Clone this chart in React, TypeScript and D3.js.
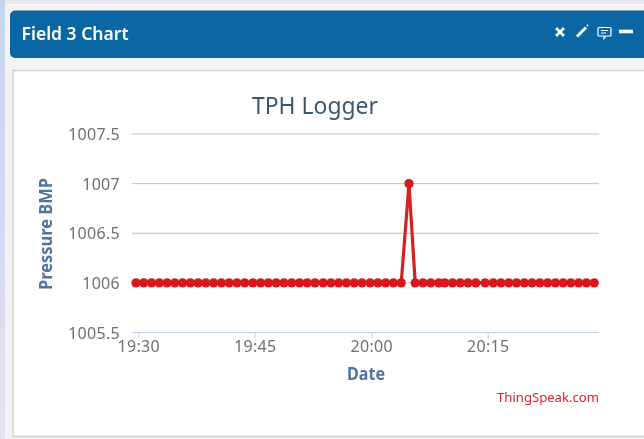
import React from "react";
import * as d3 from "d3";

const minutesAfter1930 = [
  -0.35, 0.65, 1.65, 2.65, 3.65, 4.65, 5.65, 6.65, 7.65, 8.65, 9.65, 10.65, 11.65, 12.65, 13.65,
  14.7, 15.7, 16.7, 17.7, 18.7, 19.7, 20.7, 21.7, 22.7, 23.75, 24.75, 25.75, 26.75, 27.75, 28.75,
  29.8, 30.8, 31.8, 32.8, 33.8, 34.8, 35.6, 36.6, 37.6, 38.65, 39.4, 40.4, 41.4, 42.4, 43.4,
  44.6, 45.65, 46.65, 47.65, 48.65, 49.65, 50.65, 51.65, 52.65, 53.65, 54.65, 55.65, 56.65, 57.65, 58.65,
];
const pressure = [
  1006, 1006, 1006, 1006, 1006, 1006, 1006, 1006, 1006, 1006, 1006, 1006, 1006, 1006, 1006,
  1006, 1006, 1006, 1006, 1006, 1006, 1006, 1006, 1006, 1006, 1006, 1006, 1006, 1006, 1006,
  1006, 1006, 1006, 1006, 1006, 1007, 1006, 1006, 1006, 1006, 1006, 1006, 1006, 1006, 1006,
  1006, 1006, 1006, 1006, 1006, 1006, 1006, 1006, 1006, 1006, 1006, 1006, 1006, 1006, 1006,
];
const yTicks = [1005.5, 1006, 1006.5, 1007, 1007.5];
const xTickMinutes = [0, 15, 30, 45];
const xTickLabels = ["19:30", "19:45", "20:00", "20:15"];

const FONT = "'Noto Sans', sans-serif";

export default function App() {
  const x = d3.scaleLinear().domain([0, 15]).range([138.7, 255.2]);
  const y = d3.scaleLinear().domain([1005.5, 1007.5]).range([332.5, 134]);
  const line = d3
    .line<number>()
    .x((_, i) => x(minutesAfter1930[i]))
    .y((d) => y(d));

  return (
    <svg
      width={644}
      height={439}
      viewBox="0 0 644 439"
      style={{ position: "fixed", left: 0, top: 0, display: "block", background: "#f3f3f3" }}
    >
      <defs>
        <linearGradient id="side" x1="0" y1="0" x2="0" y2="1">
          <stop offset="0" stopColor="#c3d6ee" />
          <stop offset="1" stopColor="#e6e2f2" />
        </linearGradient>
        <filter id="soft" x="-5%" y="-5%" width="110%" height="110%">
          <feGaussianBlur stdDeviation="0.5" />
        </filter>
      </defs>
      <rect x={0} y={0} width={644} height={4} fill="#e8e8e8" />
      <rect x={0} y={0} width={5} height={439} fill="url(#side)" />
      <rect x={5} y={4} width={639} height={435} fill="#f3f3f3" />
      <rect x={6} y={4} width={638} height={1} fill="#fbfbfb" />
      <path d="M644,10.5H15a5,5 0 0 0 -5,5V53a5,5 0 0 0 5,5H644Z" fill="#0a67a3" />
      <rect x={13} y={70.5} width={640} height={366} fill="#ffffff" stroke="#d4d4d4" strokeWidth={1.5} />

      <g filter="url(#soft)">
        <text x={21.5} y={39.5} fontFamily={FONT} fontSize={18} fontWeight={600} fill="#ffffff" textLength={107} lengthAdjust="spacingAndGlyphs">
          Field 3 Chart
        </text>
        <g stroke="#ffffff" fill="none">
          <path d="M556,28L564,36M564,28L556,36" strokeWidth={2.8} />
          <path d="M577,36.5L586,27.5" strokeWidth={3} />
          <path d="M587,26L588,25" strokeWidth={2} />
          <path d="M599,27.5H610a1,1 0 0 1 1,1V35a1,1 0 0 1 -1,1H606L604,38.5V36H599a1,1 0 0 1 -1,-1V28.5a1,1 0 0 1 1,-1Z" strokeWidth={1.2} />
          <path d="M601,30.5H608M601,33H606" strokeWidth={1} />
          <path d="M619,31.5H633" strokeWidth={3.6} />
        </g>

        <text x={315} y={114} textAnchor="middle" fontFamily={FONT} fontSize={23} fill="#3e576f" textLength={126} lengthAdjust="spacingAndGlyphs">
          TPH Logger
        </text>

        {yTicks.filter((t) => t !== 1005.5).map((t) => (
          <line key={t} x1={132} x2={599} y1={y(t)} y2={y(t)} stroke="#c0c0c0" strokeWidth={1} />
        ))}
        <line x1={132} x2={599} y1={y(1005.5)} y2={y(1005.5)} stroke="#c0d0e0" strokeWidth={1} />
        {xTickMinutes.map((m) => (
          <line key={m} x1={x(m)} x2={x(m)} y1={332.5} y2={338} stroke="#c0d0e0" strokeWidth={1} />
        ))}

        {yTicks.map((t) => (
          <text key={t} x={120} y={y(t) + 6} textAnchor="end" fontFamily={FONT} fontSize={16} letterSpacing={0.3} fill="#707070">
            {t}
          </text>
        ))}
        {xTickMinutes.map((m, i) => (
          <text key={m} x={x(m)} y={352} textAnchor="middle" fontFamily={FONT} fontSize={16} letterSpacing={0.3} fill="#707070">
            {xTickLabels[i]}
          </text>
        ))}

        <text transform="translate(52,234) rotate(-90)" textAnchor="middle" fontFamily={FONT} fontSize={17} fontWeight={700} fill="#4d759e" textLength={112} lengthAdjust="spacingAndGlyphs">
          Pressure BMP
        </text>
        <text x={366} y={380} textAnchor="middle" fontFamily={FONT} fontSize={17} fontWeight={700} fill="#4d759e" textLength={38} lengthAdjust="spacingAndGlyphs">
          Date
        </text>

        <path d={line(pressure) ?? ""} fill="none" stroke="#d62020" strokeWidth={3.2} strokeLinejoin="round" />
        {pressure.map((d, i) => (
          <circle key={i} cx={x(minutesAfter1930[i])} cy={y(d)} r={4.6} fill="#d9181f" />
        ))}

        <text x={599} y={402} textAnchor="end" fontFamily={FONT} fontSize={13} fill="#e0202c" textLength={102} lengthAdjust="spacingAndGlyphs">
          ThingSpeak.com
        </text>
      </g>
    </svg>
  );
}
